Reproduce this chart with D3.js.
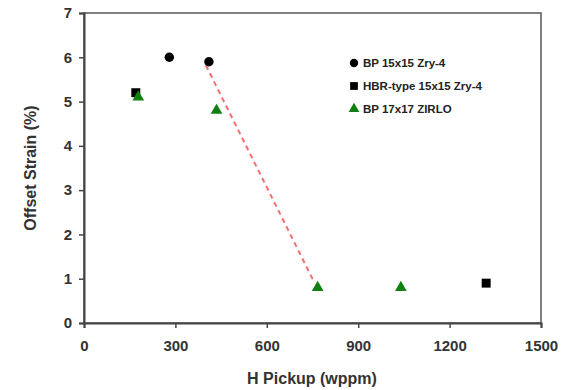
<!DOCTYPE html>
<html>
<head>
<meta charset="utf-8">
<script src="https://cdn.jsdelivr.net/npm/d3@7"></script>
<style>
  body { margin: 0; background: #fff; }
  svg { display: block; font-family: Arial, "Liberation Sans", sans-serif; }
</style>
</head>
<body>
<svg id="chart" width="574" height="390"></svg>
<script>
// series
var bp15Pickup = [280, 410];
var bp15Strain = [6.0, 5.9];
var hbrPickup = [170, 1320];
var hbrStrain = [5.2, 0.9];
var bp17Pickup = [178, 435, 767, 1040];
var bp17Strain = [5.1, 4.8, 0.8, 0.8];
// dashed trend line end points
var trendPickup = [400, 755];
var trendStrain = [5.82, 0.93];

var xTicks = [0, 300, 600, 900, 1200, 1500];
var yTicks = [0, 1, 2, 3, 4, 5, 6, 7];
var legendNames = ["BP 15x15 Zry-4", "HBR-type 15x15 Zry-4", "BP 17x17 ZIRLO"];

var svg = d3.select("#chart");
var margin = {top: 13, right: 33, bottom: 67, left: 84},
    width = +svg.attr("width") - margin.left - margin.right,
    height = +svg.attr("height") - margin.top - margin.bottom,
    g = svg.append("g").attr("transform", "translate(" + margin.left + "," + margin.top + ")");

var x = d3.scaleLinear().domain([0, 1500]).range([0, width]);
var y = d3.scaleLinear().domain([0, 7]).range([height, 0]);

function zip(a, b) { return a.map(function(d, i) { return [d, b[i]]; }); }

// box
g.append("rect")
    .attr("width", width)
    .attr("height", height)
    .attr("fill", "none")
    .attr("stroke", "#555")
    .attr("stroke-width", 1.5);

var xAxis = g.append("g")
    .attr("transform", "translate(0," + height + ")")
    .call(d3.axisBottom(x).tickValues(xTicks).tickFormat(d3.format("d")).tickSize(5).tickPadding(12));
var yAxis = g.append("g")
    .call(d3.axisLeft(y).tickValues(yTicks).tickFormat(d3.format("d")).tickSize(5).tickPadding(7));

[xAxis, yAxis].forEach(function(a) {
  a.select(".domain").attr("stroke", "#444").attr("stroke-width", 2);
  a.selectAll(".tick line").attr("stroke", "#444").attr("stroke-width", 1.5);
  a.selectAll(".tick text")
      .attr("fill", "#333")
      .attr("font-size", 15)
      .attr("font-weight", "bold")
      .attr("font-family", "Arial, 'Liberation Sans', sans-serif");
});

// trend line
g.append("path")
    .datum(zip(trendPickup, trendStrain))
    .attr("fill", "none")
    .attr("stroke", "#ff6b6b")
    .attr("stroke-width", 2)
    .attr("stroke-dasharray", "5,4")
    .attr("d", d3.line().x(function(d) { return x(d[0]); }).y(function(d) { return y(d[1]); }));

var circleSym = d3.symbol().type(d3.symbolCircle).size(70);
var squareSym = d3.symbol().type(d3.symbolSquare).size(80);
var triSym = d3.symbol().type(d3.symbolTriangle).size(60);

function drawPoints(data, sym, fill, cls) {
  g.selectAll("path." + cls)
    .data(data)
    .enter().append("path")
      .attr("class", cls)
      .attr("d", sym)
      .attr("fill", fill)
      .attr("transform", function(d) { return "translate(" + x(d[0]) + "," + y(d[1]) + ")"; });
}
drawPoints(zip(hbrPickup, hbrStrain), squareSym, "#000", "hbr");
drawPoints(zip(bp15Pickup, bp15Strain), circleSym, "#000", "bp15");
drawPoints(zip(bp17Pickup, bp17Strain), triSym, "#108010", "bp17");

// legend
var legFill = ["#000", "#000", "#108010"];
var leg = svg.append("g").attr("transform", "translate(354,63)");
legendNames.forEach(function(name, i) {
  var row = leg.append("g").attr("transform", "translate(0," + (i * 23) + ")");
  row.append("path")
      .attr("d", d3.symbol().type([d3.symbolCircle, d3.symbolSquare, d3.symbolTriangle][i]).size([55, 60, 50][i]))
      .attr("fill", legFill[i]);
  row.append("text")
      .attr("x", 9)
      .attr("dy", "0.35em")
      .attr("font-size", 11.5)
      .attr("font-weight", "bold")
      .attr("fill", "#222")
      .text(name);
});

// axis titles
svg.append("text")
    .attr("x", 312)
    .attr("y", 384)
    .attr("text-anchor", "middle")
    .attr("font-size", 16)
    .attr("font-weight", "bold")
    .attr("fill", "#333")
    .text("H Pickup (wppm)");

svg.append("text")
    .attr("transform", "translate(36,168) rotate(-90)")
    .attr("text-anchor", "middle")
    .attr("font-size", 16)
    .attr("font-weight", "bold")
    .attr("fill", "#333")
    .text("Offset Strain (%)");
</script>
</body>
</html>
